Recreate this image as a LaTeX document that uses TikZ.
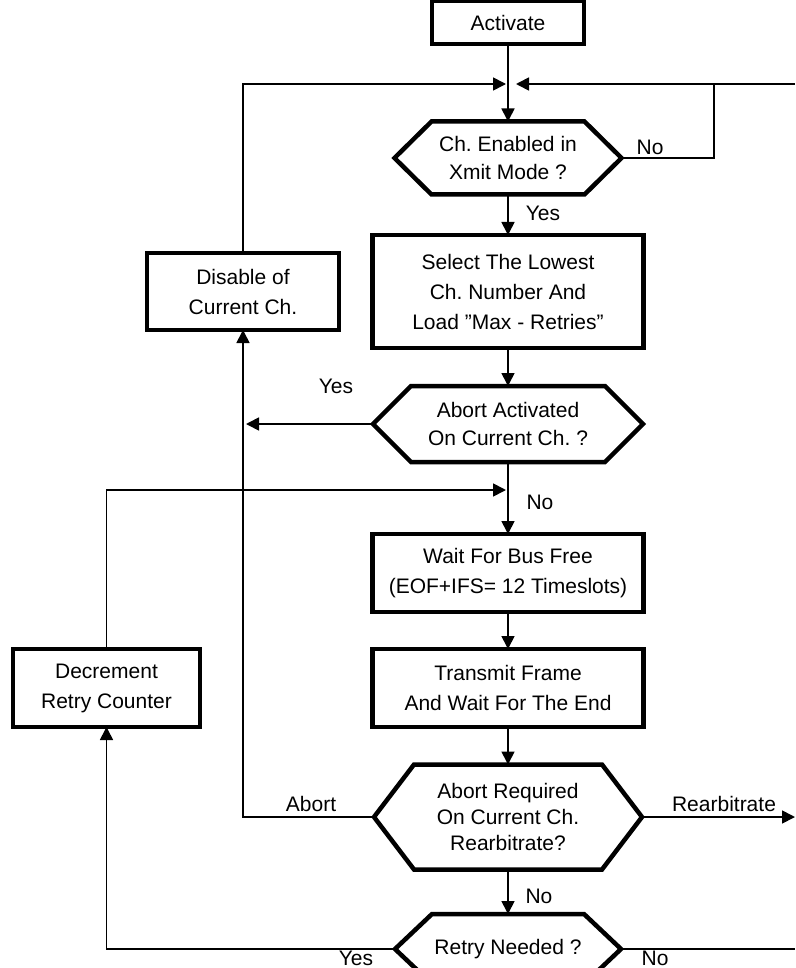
\documentclass[tikz,border=0pt]{standalone}
\usepackage{fontspec}
\setmainfont{Liberation Sans}
\usetikzlibrary{arrows.meta,calc}
\frenchspacing
\begin{document}
\begin{tikzpicture}[x=1pt,y=-1pt,
  box/.style={draw,line width=4.5pt,rectangle,inner sep=0pt,outer sep=0pt,align=center,
    font=\fontsize{21}{30}\selectfont},
  hexn/.style={inner sep=0pt,outer sep=0pt,align=center,font=\fontsize{21}{28}\selectfont},
  hexline/.style={line width=4.5pt,line join=miter},
  conn/.style={line width=1.7pt},
  arr/.style={line width=1.7pt,-{Triangle[length=13pt,width=13pt]}},
  lbl/.style={font=\fontsize{21}{24}\selectfont,inner sep=0pt}
]
\useasboundingbox (0,0) rectangle (795,968);
\fill[white] (0,0) rectangle (795,968);
\clip (0,0) rectangle (795,968);

% boxes
\node[box,minimum width=152pt,minimum height=43pt] (act) at (508,22.5) {Activate};
\node[box,minimum width=271pt,minimum height=113pt] (sel) at (508,291.5)
  {Select The Lowest\\Ch. Number And\\Load ”Max - Retries”};
\node[box,minimum width=192pt,minimum height=77pt] (dis) at (243,291.5) {Disable of\\Current Ch.};
\node[box,minimum width=271pt,minimum height=78pt] (wait) at (508,573)
  {Wait For Bus Free\\(EOF+IFS= 12 Timeslots)};
\node[box,minimum width=271pt,minimum height=78pt] (trans) at (508,688)
  {Transmit Frame\\And Wait For The End};
\node[box,minimum width=187pt,minimum height=78pt] (dec) at (106.5,688)
  {Decrement\\Retry Counter};

% hexagons
\node[hexn,minimum width=227pt,minimum height=73pt] (h1) at (508,158) {Ch. Enabled in\\Xmit Mode ?};
\node[hexn,minimum width=270pt,minimum height=76pt] (h2) at (508,424) {Abort Activated\\On Current Ch. ?};
\node[hexn,minimum width=268pt,minimum height=105pt,font=\fontsize{21}{26}\selectfont] (h3) at (508,817)
  {Abort Required\\On Current Ch.\\Rearbitrate?};
\node[hexn,minimum width=226pt,minimum height=70pt] (h4) at (508,949) {Retry Needed ?};

\foreach \n/\i in {h1/37,h2/38,h3/40,h4/37}{
  \draw[hexline] (\n.west) -- ([xshift=\i pt]\n.north west) -- ([xshift=-\i pt]\n.north east)
    -- (\n.east) -- ([xshift=-\i pt]\n.south east) -- ([xshift=\i pt]\n.south west) -- cycle;
}

% coordinates
\coordinate (jl) at (506,84);
\coordinate (jr) at (516,84);
\coordinate (rtop) at (795,84);
\coordinate (nocorner) at (714,84);
\coordinate (yesend) at (246,424);
\coordinate (loopend) at (506,490);
\coordinate (rearb) at (795,817);
\coordinate (noend) at (795,949);

% main column
\draw[arr] (act.south) -- (h1.north);
\draw[arr] (h1.south) -- (sel.north);
\draw[arr] (sel.south) -- (h2.north);
\draw[arr] (h2.south) -- (wait.north);
\draw[arr] (wait.south) -- (trans.north);
\draw[arr] (trans.south) -- (h3.north);
\draw[arr] (h3.south) -- (h4.north);

% top junction
\draw[arr] (dis.north) |- (jl);
\draw[arr] (rtop) -- (jr);
\draw[conn] (h1.east) -| (nocorner);

% abort activated yes
\draw[arr] (h2.west) -- (yesend);
% abort required
\draw[arr] (h3.west) -| (dis.south);
% rearbitrate
\draw[arr] (h3.east) -- (rearb);
% retry
\draw[arr] (h4.west) -| (dec.south);
\draw[conn] (h4.east) -- (noend);
% decrement loop
\draw[arr] (dec.north) |- (loopend);

% labels
\node[lbl] (l1) at (650,147) {No};
\node[lbl] (l2) at (543,213) {Yes};
\node[lbl] (l3) at (336,386) {Yes};
\node[lbl] (l4) at (540,502) {No};
\node[lbl] (l5) at (311,804) {Abort};
\node[lbl] (l6) at (724,804) {Rearbitrate};
\node[lbl] (l7) at (539,896) {No};
\node[lbl] (l8) at (356,958) {Yes};
\node[lbl] (l9) at (655,958) {No};
\end{tikzpicture}
\end{document}
